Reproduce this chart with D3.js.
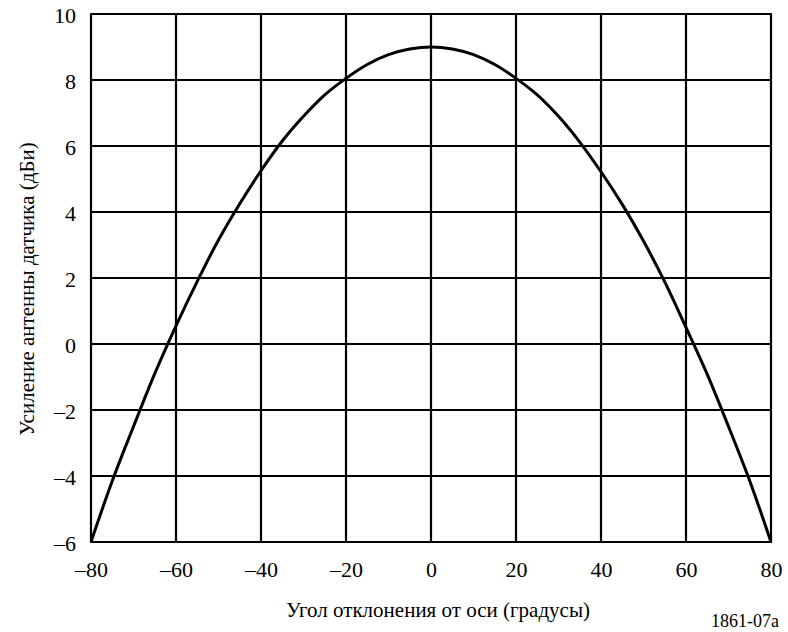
<!DOCTYPE html>
<html>
<head>
<meta charset="utf-8">
<script src="https://cdn.jsdelivr.net/npm/d3@7"></script>
<style>
  body { margin: 0; background: #fff; }
</style>
</head>
<body>
<svg width="788" height="632" font-family="Liberation Serif"></svg>
<script>
// angles (degrees) and gain (dBi)
var angles = [-80, -75, -70, -65, -60, -55, -50, -45, -40, -35, -30, -25, -20, -15, -10, -5, 0,
              5, 10, 15, 20, 25, 30, 35, 40, 45, 50, 55, 60, 65, 70, 75, 80];
var gain = [-6.0, -4.15, -2.5, -0.9, 0.55, 1.9, 3.15, 4.25, 5.25, 6.15, 6.9, 7.55, 8.05, 8.47, 8.77, 8.94, 9.0,
            8.94, 8.77, 8.47, 8.05, 7.55, 6.9, 6.12, 5.22, 4.23, 3.12, 1.88, 0.5, -0.92, -2.5, -4.15, -6.0];
var xTicks = [-80, -60, -40, -20, 0, 20, 40, 60, 80];
var yTicks = [-6, -4, -2, 0, 2, 4, 6, 8, 10];

var svg = d3.select("svg");
var plotLeft = 91, plotRight = 771, plotTop = 14, plotBottom = 542;

var x = d3.scaleLinear().domain([-80, 80]).range([plotLeft, plotRight]);
var y = d3.scaleLinear().domain([-6, 10]).range([plotBottom, plotTop]);

// grid
svg.append("g")
  .selectAll("line")
  .data(xTicks)
  .enter()
  .append("line")
    .attr("x1", d => x(d)).attr("x2", d => x(d))
    .attr("y1", plotTop).attr("y2", plotBottom)
    .attr("stroke", "black")
    .attr("stroke-width", 2.2)

svg.append("g")
  .selectAll("line")
  .data(yTicks)
  .enter()
  .append("line")
    .attr("x1", plotLeft).attr("x2", plotRight)
    .attr("y1", d => y(d)).attr("y2", d => y(d))
    .attr("stroke", "black")
    .attr("stroke-width", 2.2)

// frame
svg.append("rect")
  .attr("x", plotLeft).attr("y", plotTop)
  .attr("width", plotRight - plotLeft).attr("height", plotBottom - plotTop)
  .attr("fill", "none")
  .attr("stroke", "black")
  .attr("stroke-width", 1.8)

// tick labels
var fmt = d => d < 0 ? "\u2013" + Math.abs(d) : d;

var xAxis = d3.axisBottom(x).tickValues(xTicks).tickSize(0).tickPadding(0).tickFormat(fmt);
var gx = svg.append("g").attr("transform", "translate(0,577)").call(xAxis);
gx.select(".domain").remove();
gx.attr("font-family", "Liberation Serif").attr("font-size", 22);
gx.selectAll("text").attr("dy", 0);

var yAxis = d3.axisLeft(y).tickValues(yTicks).tickSize(0).tickPadding(0).tickFormat(fmt);
var gy = svg.append("g").attr("transform", "translate(76,0)").call(yAxis);
gy.select(".domain").remove();
gy.attr("font-family", "Liberation Serif").attr("font-size", 22);
gy.selectAll("text").attr("dy", "0.4em");

// curve
var line = d3.line()
  .x((d, i) => x(angles[i]))
  .y(d => y(d))
  .curve(d3.curveCatmullRom);

svg.append("path")
  .datum(gain)
  .attr("d", line)
  .attr("fill", "none")
  .attr("stroke", "black")
  .attr("stroke-width", 3)

// titles
svg.append("text")
  .attr("x", 438).attr("y", 617)
  .attr("text-anchor", "middle")
  .attr("font-size", 21)
  .text("Угол отклонения от оси (градусы)")

svg.append("text")
  .attr("transform", "translate(34,289) rotate(-90)")
  .attr("text-anchor", "middle")
  .attr("font-size", 21)
  .text("Усиление антенны датчика (дБи)")

svg.append("text")
  .attr("x", 779).attr("y", 627)
  .attr("text-anchor", "end")
  .attr("font-size", 18)
  .text("1861-07a")
</script>
</body>
</html>
